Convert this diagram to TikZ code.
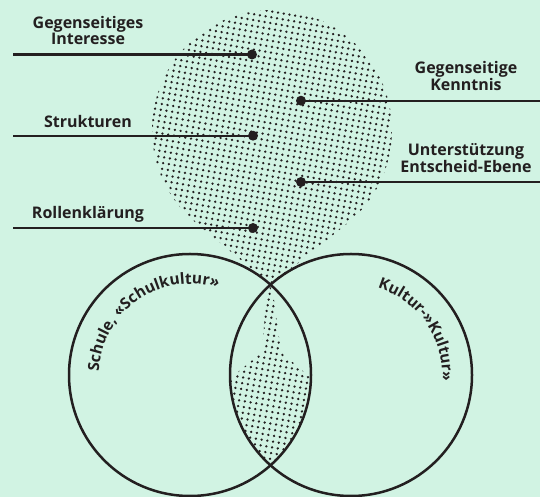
\documentclass[tikz,border=0pt]{standalone}
\usepackage{fontspec}
\setmainfont{Open Sans}
\usetikzlibrary{decorations.text}
\definecolor{bg}{RGB}{209,243,227}
\definecolor{ink}{RGB}{35,31,32}
\begin{document}
\begin{tikzpicture}[x=1pt,y=1pt,
  lbl/.style={font=\bfseries\fontsize{16}{16.7}\selectfont, text=ink, align=center, inner sep=0pt, anchor=base},
  bullet/.style={circle, fill=ink, inner sep=0pt, minimum size=10pt},
  leader/.style={draw=ink, line width=2.2pt},
  ring/.style={circle, draw=ink, line width=2.5pt, minimum size=242pt, inner sep=0pt},
  halftone/.style={fill=ink}]
\fill[bg] (0,0) rectangle (540,497);
\useasboundingbox (0,0) rectangle (540,497);
% dotted teardrop
\begin{scope}
  \clip (271,212) -- (196,274.1) arc[start angle=230.7, end angle=-50.7, radius=120] -- cycle;
  \begin{scope}[rotate around={-10:(272,350)}]
    \foreach \i in {-24,...,24}{
      \foreach \j in {-27,...,27}{
        \fill[halftone] ({272+\i*5.8},{350+\j*5.8}) circle[radius=1.3pt];
      }
    }
  \end{scope}
\end{scope}
% dotted lens part
\begin{scope}
  \clip (190,122) circle[radius=120];
  \clip (351,122) circle[radius=120];
  \clip (270,212) -- (274,197) -- (281,145) -- (320,111) -- (320,0) -- (220,0) -- (220,110) -- (262,145) -- (266,197) -- cycle;
  \begin{scope}[rotate around={-10:(272,350)}]
    \foreach \i in {-14,...,16}{
      \foreach \j in {-61,...,-20}{
        \fill[halftone] ({272+\i*5.8},{350+\j*5.8}) circle[radius=1.3pt];
      }
    }
  \end{scope}
\end{scope}
% circles
\node[ring] (schule) at (190,122) {};
\node[ring] (kultur) at (351,122) {};
% curved labels
\path[decorate, decoration={text along path, text align={left indent=3pt},
  text={|\bfseries\fontsize{15.5}{17}\selectfont\color{ink}|Schule, «Schulkultur»}}]
  (schule.center) ++(180:91) arc[start angle=180, end angle=50, radius=91];
\path[decorate, decoration={text along path, text align={left indent=11pt},
  text={|\bfseries\fontsize{15.5}{17}\selectfont\color{ink}|Kultur-»Kultur»}}]
  (kultur.center) ++(80:91) arc[start angle=80, end angle=-40, radius=91];
% bullets
\node[bullet] (b1) at (252,442.5) {};
\node[bullet] (b2) at (253,361.3) {};
\node[bullet] (b3) at (253,269) {};
\node[bullet] (b4) at (301,396.3) {};
\node[bullet] (b5) at (301,315) {};
\coordinate (e1) at (13,442.5);
\coordinate (e2) at (13,361.3);
\coordinate (e3) at (13,269);
\coordinate (e4) at (540,396.3);
\coordinate (e5) at (540,315);
\draw[leader] (e1) -- (b1.center);
\draw[leader] (e2) -- (b2.center);
\draw[leader] (e3) -- (b3.center);
\draw[leader] (e4) -- (b4.center);
\draw[leader] (e5) -- (b5.center);
% labels (base anchor = baseline of the last line)
\node[lbl] (t1) at (88,452) {Gegenseitiges\\Interesse};
\node[lbl] (t2) at (88,369.7) {Strukturen};
\node[lbl] (t3) at (88,278) {Rollenklärung};
\node[lbl] (t4) at (466,406.3) {Gegenseitige\\Kenntnis};
\node[lbl] (t5) at (466,324.3) {Unterstützung\\Entscheid-Ebene};
\end{tikzpicture}
\end{document}
